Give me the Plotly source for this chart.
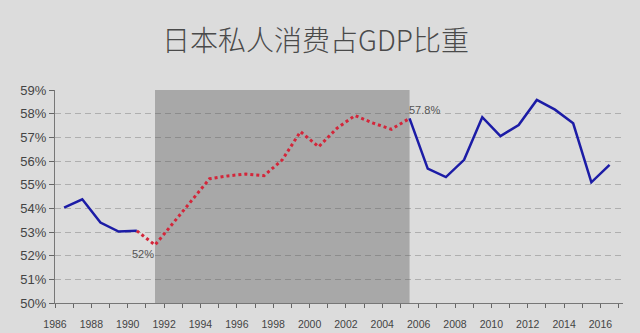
import plotly.graph_objects as go

# Japan: private consumption as a share of GDP (%)
years = list(range(1986, 2017))
share = [54.03, 54.38, 53.40, 53.02, 53.05, 52.45, 53.38, 54.32, 55.25, 55.37,
         55.45, 55.38, 56.05, 57.24, 56.60, 57.38, 57.92, 57.60, 57.34, 57.80,
         55.68, 55.32, 56.05, 57.85, 57.05, 57.52, 58.58, 58.17, 57.59, 55.10,
         55.84]

# the "lost decade" stretch highlighted in grey / dotted red
lost_start, lost_end = 1990, 2005
shade_from, shade_to = 1991, 2005

tick_years = list(range(1986, 2018))
tick_text = [str(y) if (y % 2 == 0 and y <= 2016) else "" for y in tick_years]

# points sit in the middle of each year slot
xpos = [y + 0.5 for y in years]

def part(a, b):
    idx = [i for i, y in enumerate(years) if a <= y <= b]
    return [xpos[i] for i in idx], [share[i] for i in idx]

BG = "#dcdcdc"
SHADE = "#a8a8a8"
BLUE = "#1c1ca6"
RED = "#d3263a"

fig = go.Figure()

x1, y1 = part(years[0], lost_start)
x2, y2 = part(lost_start, lost_end)
x3, y3 = part(lost_end, years[-1])

fig.add_trace(go.Scatter(x=x1, y=y1, mode="lines",
                         line=dict(color=BLUE, width=2.5), hoverinfo="skip"))
fig.add_trace(go.Scatter(x=x3, y=y3, mode="lines",
                         line=dict(color=BLUE, width=2.5), hoverinfo="skip"))
fig.add_trace(go.Scatter(x=x2, y=y2, mode="lines",
                         line=dict(color=RED, width=3, dash="dot"), hoverinfo="skip"))

fig.add_shape(type="rect", xref="x", yref="y",
              x0=shade_from + 0.5, x1=shade_to + 0.5, y0=50, y1=59,
              fillcolor=SHADE, line_width=0, layer="below")

i_low = years.index(shade_from)
i_peak = years.index(lost_end)
fig.add_annotation(x=xpos[i_low], y=share[i_low], text=f"{share[i_low]:.0f}%",
                   showarrow=False, xanchor="center", yanchor="middle",
                   xshift=-12, yshift=-9,
                   font=dict(family="Liberation Sans, Arial", size=11, color="#555555"))
fig.add_annotation(x=xpos[i_peak], y=share[i_peak], text=f"{share[i_peak]:.1f}%",
                   showarrow=False, xanchor="left", yanchor="middle",
                   xshift=-3, yshift=8,
                   font=dict(family="Liberation Sans, Arial", size=11, color="#555555"))

fig.update_layout(
    width=640, height=333,
    margin=dict(l=55, r=17, t=90, b=30, autoexpand=False),
    paper_bgcolor=BG, plot_bgcolor=BG,
    showlegend=False,
    title=dict(text="日本私人消费占GDP比重", x=0.493, xanchor="center",
               y=1 - 41 / 333, yanchor="middle", yref="container",
               font=dict(family="Noto Sans CJK SC Light, Noto Sans CJK SC",
                         size=28, color="#4a4a4a", weight=300)),
)

fig.update_xaxes(range=[1986, 2017.24], tickmode="array", tickvals=tick_years,
                 ticktext=tick_text, ticks="outside", ticklen=4, tickcolor="#666666",
                 showline=True, linecolor="#777777", linewidth=1,
                 showgrid=False, zeroline=False, ticklabelstandoff=7,
                 automargin=False,
                 tickfont=dict(family="Liberation Sans, Arial", size=10.5, color="#444444"))

fig.update_yaxes(range=[50, 59], dtick=1, tick0=50, ticksuffix="%",
                 ticks="outside", ticklen=5, tickcolor="#666666",
                 showline=True, linecolor="#777777", linewidth=1,
                 showgrid=True, gridcolor="rgba(80,80,80,0.32)", gridwidth=1,
                 griddash="6px,4px", zeroline=False, automargin=False,
                 tickfont=dict(family="Liberation Sans, Arial", size=13, color="#444444"))

fig.write_html("out.html")
